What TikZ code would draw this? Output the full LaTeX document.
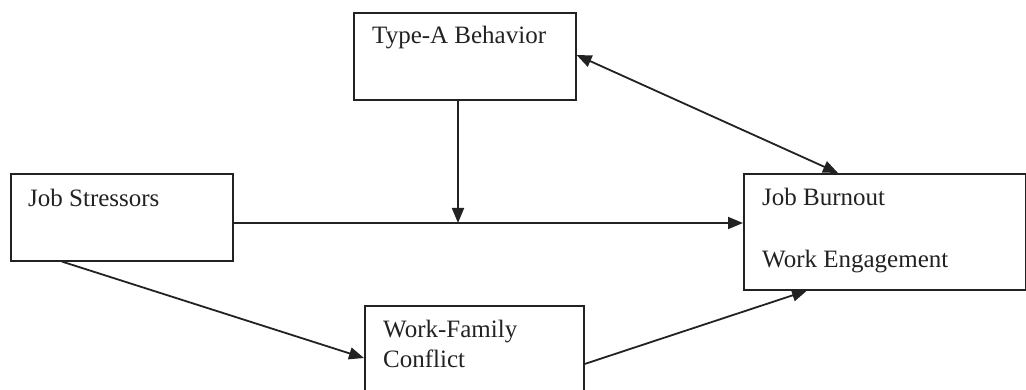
\documentclass[tikz,border=0pt]{standalone}
\usepackage{fontspec}
\setmainfont{Liberation Serif}
\usetikzlibrary{arrows.meta}
\definecolor{ink}{HTML}{222222}
\begin{document}
\begin{tikzpicture}[x=1pt,y=-1pt,
  box/.style={draw=ink, line width=1.6pt, inner sep=0pt, anchor=north west},
  lbl/.style={anchor=base west, inner sep=0pt, text=ink, font=\fontsize{25}{30}\selectfont},
  conn/.style={draw=ink, line width=1.8pt, -{Triangle[length=15pt,width=12pt]}},
  conn2/.style={draw=ink, line width=1.8pt, {Triangle[length=15pt,width=12pt]}-{Triangle[length=15pt,width=12pt]}}]
\useasboundingbox (0,0) rectangle (1026,390);
\clip (0,0) rectangle (1026,390);
% boxes
\node[box, minimum width=222pt, minimum height=87pt] (typeA) at (353,12) {};
\node[box, minimum width=222pt, minimum height=87pt] (stress) at (10,173) {};
\node[box, minimum width=282pt, minimum height=116pt] (burn) at (743,173) {};
\node[box, minimum width=219pt, minimum height=100pt] (wfc) at (364,305) {};
% labels
\node[lbl] (tTypeA) at (372,44) {Type-A Behavior};
\node[lbl] (tStress) at (28,207) {Job Stressors};
\node[lbl] (tBurn) at (762,206) {Job Burnout};
\node[lbl] (tEng) at (762,268) {Work Engagement};
\node[lbl] (tWork) at (383,337) {Work-Family};
\node[lbl] (tConf) at (383,367) {Conflict};
% helper coordinates
\coordinate (aE) at (typeA.east |- 0,55);
\coordinate (bN) at (838,0 |- burn.north);
\coordinate (aS) at (458,0 |- typeA.south);
\coordinate (mid) at (458,223);
\coordinate (sE) at (stress.east |- 0,223);
\coordinate (bW) at (burn.west |- 0,223);
\coordinate (sS) at (62,0 |- stress.south);
\coordinate (wW) at (wfc.west |- 0,358);
\coordinate (wE) at (wfc.east |- 0,364);
\coordinate (bS) at (807,0 |- burn.south);
% connectors
\draw[conn2] (aE) -- (bN);
\draw[conn] (aS) -- (mid);
\draw[conn] (sE) -- (bW);
\draw[conn] (sS) -- (wW);
\draw[conn] (wE) -- (bS);
\end{tikzpicture}
\end{document}
